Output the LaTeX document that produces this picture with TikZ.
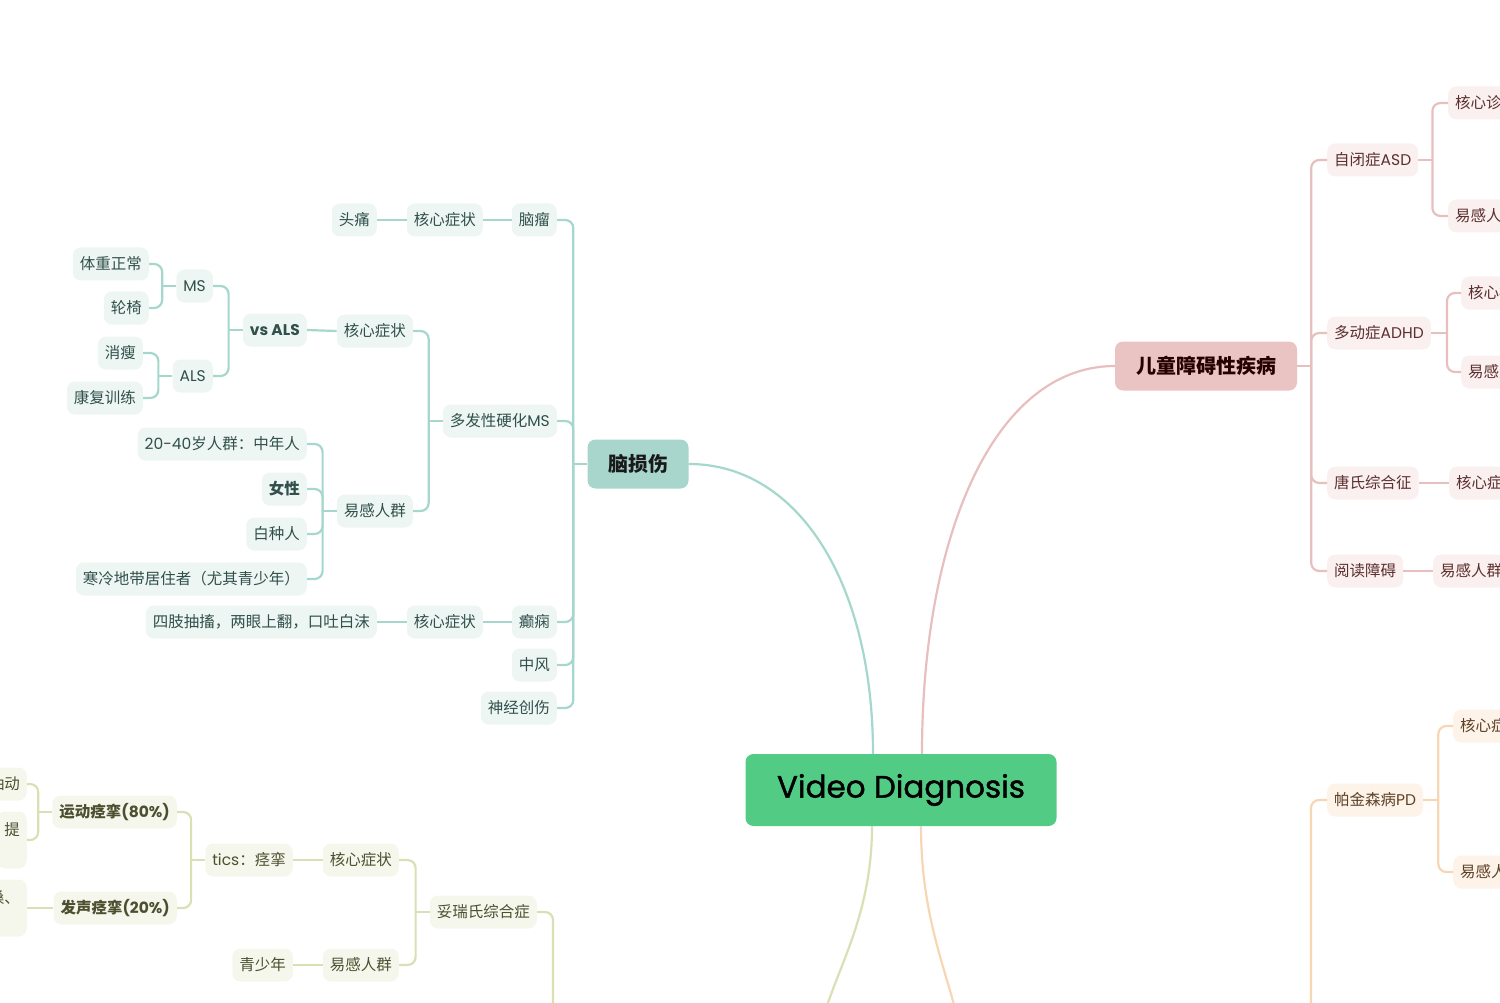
\documentclass[tikz,border=0pt]{standalone}
\usepackage{fontspec}
\setmainfont{Noto Sans CJK SC}
\newfontfamily\titlefont{Poppins}[FakeBold=1.2]
\newfontfamily\lat{Poppins}[Scale=1.0]
\definecolor{rootfill}{HTML}{52CC84}
\definecolor{tealline}{HTML}{A5D7CC}
\definecolor{tealmain}{HTML}{A8D6CC}
\definecolor{tealfill}{HTML}{EEF6F4}
\definecolor{tealtext}{HTML}{31504A}
\definecolor{pinkline}{HTML}{E8BFBF}
\definecolor{pinkmain}{HTML}{EAC3C3}
\definecolor{pinkfill}{HTML}{FAF0EF}
\definecolor{pinktext}{HTML}{5B2F2F}
\definecolor{oliveline}{HTML}{DADFB4}
\definecolor{olivefill}{HTML}{F6F7EC}
\definecolor{olivetext}{HTML}{4C5030}
\definecolor{orangeline}{HTML}{F7D7B3}
\definecolor{orangefill}{HTML}{FDF3E8}
\definecolor{orangetext}{HTML}{5E4027}

\def\stubL{++(-14,0)}
\def\stubR{++(14,0)}

\begin{document}
\begin{tikzpicture}[x=1pt,y=-1pt,
    box/.style={rounded corners=8, inner xsep=7, inner ysep=0, minimum height=33,
      font=\fontsize{15.5}{18}\selectfont},
    bold/.style={font=\bfseries\fontsize{15.5}{18}\selectfont},
    tbox/.style={box, fill=tealfill, text=tealtext, anchor=east},
    pbox/.style={box, fill=pinkfill, text=pinktext, anchor=west},
    obox/.style={box, fill=olivefill, text=olivetext, anchor=east},
    ybox/.style={box, fill=orangefill, text=orangetext, anchor=west},
    tall/.style={minimum height=57, align=right, font=\fontsize{15.5}{22}\selectfont},
    tlink/.style={draw=tealline, line width=2.2, rounded corners=8},
    plink/.style={draw=pinkline, line width=2.2, rounded corners=8},
    olink/.style={draw=oliveline, line width=2.2, rounded corners=8},
    ylink/.style={draw=orangeline, line width=2.2, rounded corners=8}]
  \useasboundingbox (0,0) rectangle (1500,1003);
  \clip (0,0) rectangle (1500,1003);

  % centre and main topics
  \node[fill=rootfill, rounded corners=8, minimum width=311, minimum height=72,
    font=\titlefont\fontsize{31}{36}\selectfont] (root) at (901,790) {Video Diagnosis};
  \node[fill=tealmain, rounded corners=8, minimum width=101, minimum height=49,
    text=black!90, font=\bfseries\fontsize{20}{24}\selectfont] (brain) at (638,464) {脑损伤};
  \node[fill=pinkmain, rounded corners=8, minimum width=182, minimum height=49,
    text=black!85!red, font=\bfseries\fontsize{20}{24}\selectfont] (kids) at (1206,366) {儿童障碍性疾病};
  \coordinate (oliveend) at (818,1040);
  \coordinate (orangeend) at (962,1040);

  \draw[tealline, line width=2.2] (brain.east) .. controls +(110,0) and +(0,-170) .. ([xshift=-28pt]root.north);
  \draw[pinkline, line width=2.2] ([xshift=21pt]root.north) .. controls +(0,-220) and +(-120,0) .. (kids.west);
  \draw[oliveline, line width=2.2] ([xshift=-29pt]root.south) .. controls +(0,100) and +(10,-60) .. (oliveend);
  \draw[orangeline, line width=2.2] ([xshift=20pt]root.south) .. controls +(0,100) and +(-10,-60) .. (orangeend);

  % brain injury
  \node[tbox] (tumor) at (557,220) {脑瘤};
  \node[tbox] (tumorcore) at (483,220) {核心症状};
  \node[tbox] (headache) at (377,220) {头痛};
  \node[tbox] (ms) at (557,421) {多发性硬化{\lat MS}};
  \node[tbox] (mscore) at (413,331) {核心症状};
  \node[tbox] (msrisk) at (413,511) {易感人群};
  \node[tbox, bold] (vsals) at (307,330) {\lat vs ALS};
  \node[tbox] (msnode) at (213,286) {\lat MS};
  \node[tbox] (alsnode) at (213,376) {\lat ALS};
  \node[tbox] (weight) at (149,264) {体重正常};
  \node[tbox] (wheelchair) at (149,308) {轮椅};
  \node[tbox] (wasting) at (143,353) {消瘦};
  \node[tbox] (rehab) at (143,398) {康复训练};
  \node[tbox] (age) at (307,444) {{\lat 20-40}岁人群：中年人};
  \node[tbox, bold] (female) at (307,489) {女性};
  \node[tbox] (white) at (307,534) {白种人};
  \node[tbox] (cold) at (307,579) {寒冷地带居住者（尤其青少年）};
  \node[tbox] (epilepsy) at (557,622) {癫痫};
  \node[tbox] (epicore) at (483,622) {核心症状};
  \node[tbox] (seizure) at (377,622) {四肢抽搐，两眼上翻，口吐白沫};
  \node[tbox] (stroke) at (557,665) {中风};
  \node[tbox] (trauma) at (557,708) {神经创伤};

  \draw[tlink] (brain.west) -- \stubL;
  \foreach \c in {tumor,ms,epilepsy,stroke,trauma}
    \draw[tlink] (brain.west) \stubL |- (\c.east);
  \draw[tlink] (tumor.west) -- (tumorcore.east);
  \draw[tlink] (tumorcore.west) -- (headache.east);
  \draw[tlink] (ms.west) -- \stubL;
  \foreach \c in {mscore,msrisk}
    \draw[tlink] (ms.west) \stubL |- (\c.east);
  \draw[tlink] (mscore.west) -- (vsals.east);
  \draw[tlink] (vsals.west) -- \stubL;
  \foreach \c in {msnode,alsnode}
    \draw[tlink] (vsals.west) \stubL |- (\c.east);
  \draw[tlink] (msnode.west) -- \stubL;
  \foreach \c in {weight,wheelchair}
    \draw[tlink] (msnode.west) \stubL |- (\c.east);
  \draw[tlink] (alsnode.west) -- \stubL;
  \foreach \c in {wasting,rehab}
    \draw[tlink] (alsnode.west) \stubL |- (\c.east);
  \draw[tlink] (msrisk.west) -- \stubL;
  \foreach \c in {age,female,white,cold}
    \draw[tlink] (msrisk.west) \stubL |- (\c.east);
  \draw[tlink] (epilepsy.west) -- (epicore.east);
  \draw[tlink] (epicore.west) -- (seizure.east);

  % children's disorders
  \node[pbox] (asd) at (1327,160) {自闭症{\lat ASD}};
  \node[pbox] (adhd) at (1327,333) {多动症{\lat ADHD}};
  \node[pbox] (down) at (1327,483) {唐氏综合征};
  \node[pbox] (dyslexia) at (1327,571) {阅读障碍};
  \node[pbox] (asdcore) at (1448,103) {核心诊断};
  \node[pbox] (asdrisk) at (1448,216) {易感人群};
  \node[pbox] (adhdcore) at (1461,293) {核心症状};
  \node[pbox] (adhdrisk) at (1461,372) {易感人群};
  \node[pbox] (downcore) at (1449,483) {核心症状};
  \node[pbox] (dysrisk) at (1433,571) {易感人群};

  \draw[plink] (kids.east) -- \stubR;
  \foreach \c in {asd,adhd,down,dyslexia}
    \draw[plink] (kids.east) \stubR |- (\c.west);
  \draw[plink] (asd.east) -- \stubR;
  \foreach \c in {asdcore,asdrisk}
    \draw[plink] (asd.east) \stubR |- (\c.west);
  \draw[plink] (adhd.east) -- ++(16,0);
  \foreach \c in {adhdcore,adhdrisk}
    \draw[plink] (adhd.east) ++(16,0) |- (\c.west);
  \draw[plink] (down.east) -- (downcore.west);
  \draw[plink] (dyslexia.east) -- (dysrisk.west);

  % parkinson
  \node[ybox] (pd) at (1327,800) {帕金森病{\lat PD}};
  \node[ybox] (pdcore) at (1453,726) {核心症状};
  \node[ybox] (pdrisk) at (1453,872) {易感人群};
  \coordinate (orangebus) at (1311,1040);
  \draw[ylink] (orangebus) |- (pd.west);
  \draw[ylink] (pd.east) -- ++(15,0);
  \foreach \c in {pdcore,pdrisk}
    \draw[ylink] (pd.east) ++(15,0) |- (\c.west);

  % tourette
  \node[obox] (tourette) at (537,912) {妥瑞氏综合症};
  \node[obox] (tcore) at (399,860) {核心症状};
  \node[obox] (trisk) at (399,965) {易感人群};
  \node[obox] (tics) at (293,860) {{\lat tics}：痉挛};
  \node[obox] (teen) at (293,965) {青少年};
  \node[obox, bold] (motor) at (177,812) {运动痉挛{\lat (80\%)}};
  \node[obox, bold] (vocal) at (177,908) {发声痉挛{\lat (20\%)}};
  \node[obox] (twitch) at (27,784) {抽动};
  \node[obox, tall] (lift) at (27,840) {提\\~};
  \node[obox, tall] (throat) at (27,908) {嗓、\\~};
  \coordinate (olivebus) at (553,1040);

  \draw[olink] (tourette.east) -| (olivebus);
  \draw[olink] (tourette.west) -- \stubL;
  \foreach \c in {tcore,trisk}
    \draw[olink] (tourette.west) \stubL |- (\c.east);
  \draw[olink] (tcore.west) -- (tics.east);
  \draw[olink] (trisk.west) -- (teen.east);
  \draw[olink] (tics.west) -- \stubL;
  \foreach \c in {motor,vocal}
    \draw[olink] (tics.west) \stubL |- (\c.east);
  \draw[olink] (motor.west) -- \stubL;
  \foreach \c in {twitch,lift}
    \draw[olink] (motor.west) \stubL |- (\c.east);
  \draw[olink] (vocal.west) -- (throat.east);
\end{tikzpicture}
\end{document}
